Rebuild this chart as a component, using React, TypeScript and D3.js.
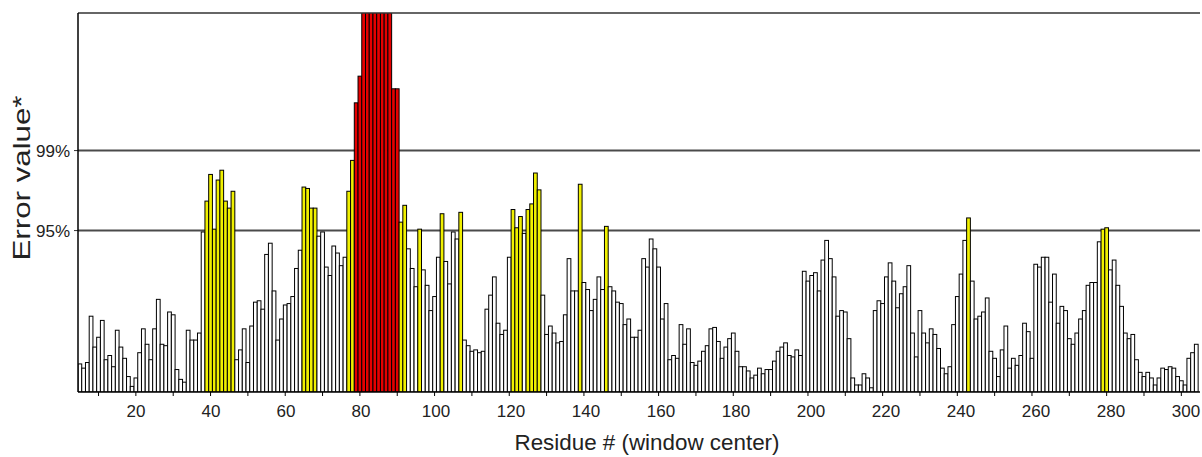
import React from "react";
import * as d3 from "d3";

// ERRAT-style error values per residue (window center), starting at residue 5
const firstResidue = 5;
const errorValues: number[] = [
  // 5-32
  2.0, 1.7, 2.1, 5.4, 3.2, 3.9, 5.1, 2.3, 2.6, 1.8, 4.4, 3.2, 2.4, 1.1, 0.4, 1.0, 2.8, 4.5, 3.4, 2.3, 4.5, 6.6, 3.4, 3.3, 5.7, 5.5, 1.6, 0.9,
  // 33-59
  0.7, 4.4, 3.7, 3.7, 4.2, 11.4, 13.6, 15.5, 11.6, 15.1, 15.8, 13.6, 13.1, 14.3, 2.3, 3.0, 4.5, 2.1, 4.7, 6.4, 6.5, 5.9, 9.8, 10.6, 7.2, 3.7, 5.2,
  // 60-90
  6.2, 6.3, 6.8, 8.8, 10.1, 14.6, 14.5, 13.1, 13.1, 11.1, 11.4, 8.9, 8.3, 10.4, 9.9, 9.0, 9.6, 14.3, 16.5, 20.6, 22.5,
  30, 30, 30, 30, 30, 30, 30, 30, 21.6, 21.6,
  // 91-113
  12.1, 13.3, 10.2, 8.8, 7.5, 11.6, 8.7, 7.6, 5.8, 6.8, 9.6, 12.7, 9.3, 7.7, 11.4, 10.9, 12.8, 3.7, 3.3, 2.9, 3.0, 2.8, 2.9,
  // 114-141
  5.9, 6.9, 8.2, 4.9, 4.1, 4.4, 9.6, 13.0, 11.7, 12.5, 11.3, 13.0, 13.4, 15.6, 14.4, 6.9, 4.1, 4.7, 4.2, 3.5, 3.6, 5.5, 9.5, 7.2, 7.2, 14.8, 7.8, 7.3,
  // 142-168
  5.8, 6.6, 8.2, 7.3, 11.8, 7.5, 7.2, 6.4, 6.3, 4.8, 5.2, 3.9, 3.9, 4.4, 9.5, 8.9, 10.9, 10.2, 8.9, 5.2, 6.3, 2.3, 2.6, 2.4, 4.8, 3.4, 4.5,
  // 169-196
  2.1, 1.9, 2.2, 2.9, 3.3, 4.5, 4.6, 3.6, 2.4, 3.2, 3.8, 4.2, 2.9, 1.8, 1.8, 1.5, 1.0, 1.2, 1.7, 1.3, 1.6, 1.6, 2.2, 2.9, 3.2, 3.5, 2.6, 2.5,
  // 197-223
  3.0, 2.6, 8.6, 7.9, 8.3, 8.5, 7.2, 9.4, 10.8, 9.5, 8.2, 5.4, 5.8, 5.7, 3.8, 1.0, 0.5, 0.5, 1.3, 1.0, 0.3, 5.8, 6.5, 6.3, 8.2, 9.2, 7.9,
  // 224-250
  6.0, 7.0, 7.5, 9.0, 4.2, 2.5, 5.8, 4.2, 3.5, 4.5, 4.1, 3.1, 1.7, 1.3, 1.8, 4.8, 6.8, 8.4, 10.8, 12.4, 7.9, 5.2, 5.4, 5.7, 6.7, 2.9, 2.4,
  // 251-278
  1.1, 3.0, 4.7, 1.7, 2.4, 1.9, 2.6, 4.9, 4.3, 2.4, 9.1, 8.9, 9.6, 9.6, 6.4, 8.4, 4.9, 6.1, 5.8, 3.8, 3.4, 4.2, 5.2, 5.8, 7.6, 7.8, 7.8, 10.7,
  // 279-304
  11.6, 11.7, 8.7, 9.4, 7.6, 6.1, 4.2, 3.8, 4.1, 2.3, 1.4, 1.1, 1.4, 1.0, 0.5, 1.0, 1.7, 1.6, 1.8, 1.7, 1.1, 0.8, 0.5, 2.4, 2.8, 3.4,
];

const thresholdLabels = ["95%", "99%"];
const thresholdValues = [11.5, 17.2];
const xTickLabels = [20, 40, 60, 80, 100, 120, 140, 160, 180, 200, 220, 240, 260, 280, 300];
const xMinorTicks = [10, 30, 50, 70, 90, 110, 130, 150, 170, 190, 210, 230, 250, 270, 290];
const xDomain = [4.5, 305];
const yMax = 27;

const W = 1202;
const H = 457;
const plot = { left: 78, right: 1200, top: 13, bottom: 392 };

export default function App() {
  const x = d3.scaleLinear().domain(xDomain).range([plot.left, plot.right]);
  // tick labels in the original drift slightly right of their tick marks
  const xLabel = d3.scaleLinear().domain([20, 300]).range([136, 1186]);
  const y = d3.scaleLinear().domain([0, yMax]).range([plot.bottom, plot.top]);

  const bars = errorValues.map((v, i) => ({ residue: firstResidue + i, value: v }));
  const colorFor = (v: number) =>
    v > thresholdValues[1] ? "#e60000" : v > thresholdValues[0] ? "#f0f000" : "#ffffff";

  return (
    <svg
      width={W}
      height={H}
      style={{ position: "absolute", left: 0, top: 0, background: "#fff" }}
      fontFamily="'Liberation Sans', Arial, sans-serif"
    >
      <defs>
        <clipPath id="plotClip">
          <rect x={plot.left} y={plot.top} width={plot.right - plot.left} height={plot.bottom - plot.top} />
        </clipPath>
      </defs>

      {/* threshold lines */}
      {thresholdValues.map((t, i) => (
        <g key={thresholdLabels[i]}>
          <line x1={plot.left} x2={plot.right} y1={y(t)} y2={y(t)} stroke="#4a4a4a" strokeWidth={2} />
          <line x1={plot.left - 4} x2={plot.left} y1={y(t)} y2={y(t)} stroke="#333" strokeWidth={1} />
          <text x={plot.left - 8} y={y(t)} dy="0.35em" textAnchor="end" fontSize={17} fill="#222">
            {thresholdLabels[i]}
          </text>
        </g>
      ))}

      {/* bars */}
      <g clipPath="url(#plotClip)">
        {bars.map((b) => {
          const x0 = x(b.residue - 0.5);
          const x1 = x(b.residue + 0.5);
          const yTop = y(Math.min(b.value, yMax + 1));
          return (
            <rect
              key={b.residue}
              x={x0}
              y={yTop}
              width={x1 - x0}
              height={plot.bottom - yTop}
              fill={colorFor(b.value)}
              stroke="#000"
              strokeWidth={1}
            />
          );
        })}
      </g>

      {/* frame */}
      <line x1={plot.left} x2={plot.right} y1={plot.top} y2={plot.top} stroke="#333" strokeWidth={1.5} />
      <line x1={plot.left} x2={plot.left} y1={plot.top} y2={plot.bottom} stroke="#000" strokeWidth={1.5} />
      <line x1={plot.left} x2={plot.right} y1={plot.bottom} y2={plot.bottom} stroke="#000" strokeWidth={1.5} />

      {/* x ticks */}
      {xMinorTicks.map((t) => (
        <line key={"m" + t} x1={x(t)} x2={x(t)} y1={plot.bottom} y2={plot.bottom + 4} stroke="#000" strokeWidth={1} />
      ))}
      {xTickLabels.map((t) => (
        <g key={t}>
          <line x1={x(t)} x2={x(t)} y1={plot.bottom} y2={plot.bottom + 4} stroke="#000" strokeWidth={1} />
          <text x={xLabel(t)} y={plot.bottom + 25} textAnchor="middle" fontSize={17} fill="#222">
            {t}
          </text>
        </g>
      ))}

      {/* axis titles */}
      <text x={647} y={450} textAnchor="middle" fontSize={22} fill="#222" textLength={265} lengthAdjust="spacingAndGlyphs">
        Residue # (window center)
      </text>
      <text
        transform={`translate(30,178) rotate(-90)`}
        textAnchor="middle"
        fontSize={24}
        fill="#222"
        textLength={165}
        lengthAdjust="spacingAndGlyphs"
      >
        Error value*
      </text>
    </svg>
  );
}
